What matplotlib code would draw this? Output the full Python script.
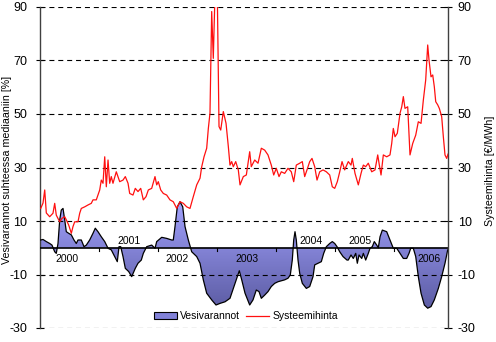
import numpy as np
import matplotlib
matplotlib.use("Agg")
import matplotlib.pyplot as plt
from matplotlib.patches import Polygon, Patch
from matplotlib.lines import Line2D
from matplotlib.colors import LinearSegmentedColormap

plt.rcParams['font.family'] = ['Liberation Sans', 'DejaVu Sans']
plt.rcParams['axes.unicode_minus'] = False

# ---- data (fractional years) ----
price_t = [2000.012, 2000.051, 2000.080, 2000.107, 2000.164, 2000.220, 2000.249, 2000.276, 2000.334, 2000.373,
           2000.419, 2000.446, 2000.486, 2000.531, 2000.559, 2000.588, 2000.644, 2000.673, 2000.700, 2000.758,
           2000.814, 2000.869, 2000.898, 2000.954, 2000.983, 2001.012, 2001.039, 2001.068, 2001.097, 2001.124,
           2001.153, 2001.181, 2001.208, 2001.237, 2001.293, 2001.351, 2001.407, 2001.446, 2001.492, 2001.520,
           2001.576, 2001.615, 2001.661, 2001.707, 2001.751, 2001.797, 2001.836, 2001.893, 2001.949, 2001.978,
           2002.005, 2002.046, 2002.090, 2002.147, 2002.203, 2002.259, 2002.317, 2002.373, 2002.429, 2002.486,
           2002.542, 2002.598, 2002.656, 2002.712, 2002.741, 2002.780, 2002.825, 2002.853, 2002.881, 2002.910,
           2002.937, 2002.966, 2003.005, 2003.034, 2003.063, 2003.107, 2003.153, 2003.192, 2003.220, 2003.249,
           2003.276, 2003.317, 2003.361, 2003.390, 2003.446, 2003.497, 2003.554, 2003.581, 2003.639, 2003.695,
           2003.751, 2003.808, 2003.864, 2003.920, 2003.961, 2004.005, 2004.051, 2004.090, 2004.147, 2004.203,
           2004.259, 2004.300, 2004.344, 2004.402, 2004.446, 2004.486, 2004.525, 2004.571, 2004.610, 2004.656,
           2004.695, 2004.741, 2004.797, 2004.853, 2004.910, 2004.954, 2004.995, 2005.039, 2005.080, 2005.119,
           2005.164, 2005.225, 2005.271, 2005.293, 2005.339, 2005.395, 2005.441, 2005.480, 2005.520, 2005.564,
           2005.622, 2005.678, 2005.724, 2005.746, 2005.780, 2005.819, 2005.876, 2005.932, 2005.961, 2005.988,
           2006.017, 2006.056, 2006.102, 2006.131, 2006.158, 2006.186, 2006.232, 2006.271, 2006.317, 2006.368,
           2006.412, 2006.458, 2006.497, 2006.537, 2006.571, 2006.593, 2006.627, 2006.656, 2006.683, 2006.707,
           2006.741, 2006.768, 2006.808, 2006.836, 2006.864, 2006.893, 2006.915]
price_v = [14.7, 16.7, 21.6, 13.0, 11.6, 12.9, 16.6, 12.2, 9.7, 11.0,
           11.6, 10.4, 8.5, 5.4, 7.9, 9.7, 9.7, 12.9, 14.7, 15.3,
           16.0, 16.6, 17.9, 17.9, 19.7, 21.6, 25.3, 24.1, 34.0, 22.8,
           32.8, 24.1, 26.6, 24.1, 28.4, 24.7, 25.3, 26.6, 24.1, 20.3,
           19.7, 22.2, 21.0, 22.2, 17.9, 19.1, 21.6, 22.2, 26.6, 23.5,
           24.7, 21.6, 20.3, 19.7, 17.9, 17.2, 14.7, 17.2, 16.6, 15.3,
           14.7, 19.1, 23.5, 26.0, 30.3, 34.0, 37.2, 44.6, 50.3, 88.3,
           70.8, 95.0, 95.0, 45.3, 44.0, 50.9, 46.5, 37.8, 30.9, 32.2,
           30.3, 32.2, 29.1, 23.5, 26.6, 27.2, 35.9, 30.3, 32.8, 31.6,
           37.2, 36.5, 34.7, 30.9, 27.2, 29.7, 26.6, 28.4, 27.8, 29.7,
           28.4, 24.7, 30.9, 31.6, 32.2, 26.6, 29.1, 32.2, 33.4, 30.3,
           25.3, 28.4, 29.1, 28.4, 27.2, 22.8, 22.2, 24.7, 28.4, 32.2,
           29.1, 32.2, 30.9, 33.4, 27.8, 23.5, 27.8, 30.9, 30.3, 31.6,
           28.4, 29.1, 34.7, 31.6, 27.2, 34.7, 34.0, 34.7, 39.0, 44.6,
           41.5, 42.8, 50.3, 52.7, 56.5, 52.1, 52.7, 34.7, 39.0, 42.1,
           47.1, 46.5, 55.2, 62.7, 75.8, 70.2, 63.9, 64.6, 60.2, 54.6,
           53.4, 52.1, 49.0, 41.5, 34.7, 33.4, 35.0]

res_t = [2000.012, 2000.051, 2000.107, 2000.164, 2000.203, 2000.249, 2000.276, 2000.305, 2000.334, 2000.361,
         2000.390, 2000.419, 2000.446, 2000.486, 2000.531, 2000.576, 2000.615, 2000.644, 2000.700, 2000.746,
         2000.785, 2000.842, 2000.898, 2000.937, 2000.983, 2001.039, 2001.097, 2001.153, 2001.208, 2001.266,
         2001.310, 2001.339, 2001.368, 2001.407, 2001.446, 2001.503, 2001.554, 2001.615, 2001.661, 2001.717,
         2001.751, 2001.808, 2001.893, 2001.949, 2001.978, 2002.063, 2002.147, 2002.232, 2002.259, 2002.288,
         2002.327, 2002.373, 2002.419, 2002.458, 2002.514, 2002.571, 2002.656, 2002.712, 2002.768, 2002.825,
         2002.910, 2002.983, 2003.051, 2003.136, 2003.220, 2003.305, 2003.378, 2003.419, 2003.475, 2003.554,
         2003.610, 2003.666, 2003.712, 2003.751, 2003.808, 2003.864, 2003.920, 2003.978, 2004.034, 2004.147,
         2004.203, 2004.242, 2004.276, 2004.300, 2004.322, 2004.344, 2004.373, 2004.402, 2004.446, 2004.514,
         2004.571, 2004.627, 2004.656, 2004.712, 2004.768, 2004.808, 2004.853, 2004.910, 2004.954, 2004.995,
         2005.034, 2005.080, 2005.136, 2005.203, 2005.225, 2005.271, 2005.310, 2005.351, 2005.378, 2005.407,
         2005.453, 2005.480, 2005.520, 2005.564, 2005.593, 2005.632, 2005.666, 2005.707, 2005.734, 2005.763,
         2005.802, 2005.876, 2005.932, 2005.988, 2006.046, 2006.102, 2006.158, 2006.215, 2006.254, 2006.283,
         2006.327, 2006.368, 2006.412, 2006.458, 2006.514, 2006.571, 2006.627, 2006.683, 2006.751, 2006.808,
         2006.864, 2006.910]
res_v = [2.9, 3.1, 2.3, 1.6, 1.0, -1.5, -2.1, 1.6, 10.4, 14.1,
         14.7, 10.4, 6.0, 5.4, 4.8, 2.9, 1.6, 2.9, 2.9, 0.4,
         1.0, 2.9, 5.4, 7.3, 6.0, 4.1, 2.3, -0.2, -0.8, -3.3,
         -5.2, 0.4, 0.4, -3.3, -7.7, -8.9, -10.8, -7.7, -5.8, -4.6,
         -2.1, 0.4, 1.0, -0.2, 2.3, 3.9, 3.5, 2.9, 2.9, 7.9,
         15.3, 17.2, 15.3, 7.9, 2.9, -1.5, -3.3, -5.8, -12.0, -17.0,
         -19.5, -21.4, -20.8, -20.2, -18.9, -13.3, -8.6, -12.0, -17.0, -21.4,
         -19.5, -15.8, -16.4, -18.9, -17.7, -16.4, -14.5, -13.3, -12.7, -12.0,
         -11.4, -10.2, -4.6, 2.9, 6.0, 2.9, -4.6, -9.6, -13.3, -15.2,
         -14.5, -10.8, -6.4, -5.8, -5.2, -2.1, 0.4, 1.6, 2.3, 1.6,
         0.4, -1.5, -3.3, -4.6, -4.6, -2.7, -4.0, -2.1, -5.8, -2.7,
         -4.0, -2.1, -4.6, -2.1, -0.2, 0.4, 2.3, 1.0, 0.0, 4.1,
         6.6, 6.0, 2.9, -0.2, -0.2, -2.1, -4.0, -4.0, -2.1, -0.2,
         -0.2, -3.3, -10.8, -17.0, -21.4, -22.6, -22.0, -19.5, -15.2, -10.8,
         -5.8, -0.8]

yticks = [90, 70, 50, 30, 10, -10, -30]
year_labels = ['2000', '2001', '2002', '2003', '2004', '2005', '2006']
year_label_x = [2000.458, 2001.505, 2002.327, 2003.500, 2004.585, 2005.418, 2006.593]
year_label_above = [False, True, False, False, True, True, False]

# ---- figure ----
W, H = 496, 342
fig = plt.figure(figsize=(W / 100, H / 100), dpi=100)
ax = fig.add_axes([40 / W, (H - 328) / H, 408 / W, 321 / H])
x0, x1 = 2000.0, 2006.915
ymin, ymax = -30, 90

# gradient filled area
rt = np.array(res_t)
rv = np.array(res_v)
verts = [(rt[0], 0)] + list(zip(rt, rv)) + [(rt[-1], 0)]
poly = Polygon(verts, closed=True, facecolor='none', edgecolor='none', transform=ax.transData)
ax.add_patch(poly)
cmap = LinearSegmentedColormap.from_list('g', [(0.36, 0.36, 0.64), (0.64, 0.64, 1.0)])
grad = np.linspace(0, 1, 256).reshape(-1, 1)
im = ax.imshow(grad, extent=[x0, x1, -23, 18], origin='lower', aspect='auto', cmap=cmap, zorder=1)
im.set_clip_path(poly)
ax.plot(rt, rv, color='black', lw=0.9, zorder=3)

# grid and zero line
for yv in yticks:
    ax.axhline(yv, color='black', lw=0.8, ls=(0, (4.5, 3.5)), zorder=2)
ax.axhline(0, color='black', lw=1.2, zorder=4)
for yr in range(2001, 2007):
    ax.plot([yr, yr], [0, -1.4], color='black', lw=0.8, zorder=4)

for lab, xl, above in zip(year_labels, year_label_x, year_label_above):
    ax.text(xl, 2.6 if above else -4.2, lab, ha='center', va='center', fontsize=7.5, zorder=5)

ax.set_xlim(x0, x1)
ax.set_ylim(ymin, ymax)
ax.set_xticks([])
ax.set_yticks(yticks)
ax.tick_params(axis='y', direction='inout', length=6, width=0.8, labelsize=9, pad=6)
for s in ['top', 'bottom']:
    ax.spines[s].set_visible(False)
ax.spines['left'].set_color('#404040')
ax.spines['left'].set_linewidth(1.0)
ax.spines['right'].set_visible(False)
ax.set_ylabel('Vesivarannot suhteessa mediaaniin [%]', fontsize=7.7)
ax.yaxis.set_label_coords((12 - 40) / 408, (328 - 170) / 321)

ax2 = ax.twinx()
ax2.plot(price_t, price_v, color='#ff1010', lw=0.9, zorder=5)
ax2.set_ylim(ymin, ymax)
ax2.set_xlim(x0, x1)
ax2.set_yticks(yticks)
ax2.tick_params(axis='y', direction='inout', length=6, width=0.8, labelsize=9, pad=4)
for s in ['top', 'bottom', 'left']:
    ax2.spines[s].set_visible(False)
ax2.spines['right'].set_color('#404040')
ax2.spines['right'].set_linewidth(1.0)
ax2.set_ylabel('Systeemihinta [€/MWh]', fontsize=7.7, rotation=90)
ax2.yaxis.set_label_coords((485 - 40) / 408, (328 - 171) / 321)

handles = [Patch(facecolor='#8282d8', edgecolor='black', linewidth=0.8),
           Line2D([], [], color='#ff1010', lw=0.9)]
fig.legend(handles, ['Vesivarannot', 'Systeemihinta'], loc='center',
           bbox_to_anchor=(246 / W, (H - 316) / H), ncol=2, frameon=False,
           fontsize=7.5, handlelength=2.2, handleheight=0.6, handletextpad=0.3,
           columnspacing=0.6)

fig.savefig('out.png', dpi=100)
